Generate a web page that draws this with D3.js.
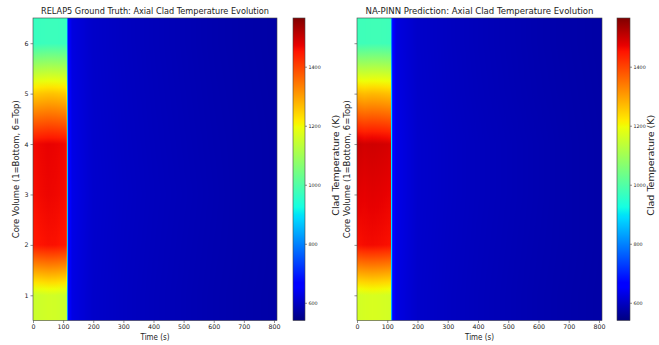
<!DOCTYPE html>
<html>
<head>
<meta charset="utf-8">
<script src="https://cdn.jsdelivr.net/npm/d3@7"></script>
<style>
  body { margin: 0; background: #fff; }
  svg text { font-family: "DejaVu Sans", sans-serif; fill: #222; }
</style>
</head>
<body>
<div id="chart"></div>
<script>
// time samples (s) and core volumes
const times = [0, 25, 50, 75, 100, 111, 114, 118, 130, 200, 300, 400, 500, 600, 700, 810];
const volumes = [1, 2, 3, 4, 5, 6];

// RELAP5 clad temperature (K), one array per volume
const relapV1 = [1150, 1155, 1160, 1158, 1152, 1150, 840, 665, 628, 606, 598, 592, 587, 582, 578, 574];
const relapV2 = [1445, 1452, 1456, 1455, 1450, 1446, 885, 670, 630, 607, 599, 593, 588, 583, 579, 575];
const relapV3 = [1458, 1464, 1468, 1466, 1462, 1458, 890, 672, 632, 608, 600, 594, 589, 584, 579, 575];
const relapV4 = [1462, 1468, 1472, 1470, 1466, 1462, 888, 670, 630, 607, 599, 593, 588, 583, 579, 575];
const relapV5 = [1250, 1258, 1262, 1260, 1255, 1250, 860, 666, 628, 606, 598, 592, 587, 582, 578, 574];
const relapV6 = [965, 970, 972, 972, 970, 968, 800, 660, 625, 605, 597, 591, 586, 581, 577, 573];

// NA-PINN prediction
const pinnV1 = [1160, 1165, 1168, 1166, 1162, 1160, 845, 666, 628, 606, 598, 592, 587, 582, 578, 574];
const pinnV2 = [1455, 1460, 1462, 1460, 1457, 1455, 888, 671, 631, 607, 599, 593, 588, 583, 579, 575];
const pinnV3 = [1478, 1474, 1478, 1476, 1472, 1470, 895, 673, 632, 608, 600, 594, 589, 584, 579, 575];
const pinnV4 = [1500, 1492, 1495, 1493, 1490, 1486, 900, 673, 632, 608, 600, 594, 589, 584, 579, 575];
const pinnV5 = [1275, 1268, 1272, 1270, 1266, 1264, 865, 667, 628, 606, 598, 592, 587, 582, 578, 574];
const pinnV6 = [975, 976, 978, 978, 976, 974, 805, 661, 625, 605, 597, 591, 586, 581, 577, 573];

const xTicks = [0, 100, 200, 300, 400, 500, 600, 700, 800];
const yTicks = [1, 2, 3, 4, 5, 6];
const cbTicks = [600, 800, 1000, 1200, 1400];
const tempDomain = [540, 1565];

// jet colormap stops
const jetT = [0, 0.11, 0.125, 0.34, 0.35, 0.375, 0.64, 0.65, 0.66, 0.89, 0.91, 1];
const jetC = ['#000080', '#0000ff', '#0000ff', '#00dbff', '#00e5f7', '#15ffe2',
              '#eeff08', '#f7f500', '#ffec00', '#ff1300', '#e80000', '#800000'];
const color = d3.scaleLinear()
    .domain(jetT.map(t => tempDomain[0] + t * (tempDomain[1] - tempDomain[0])))
    .range(jetC)
    .clamp(true);

const W = 659, H = 345;
const plotTop = 18, plotBottom = 320.5;

const panels = [
    { title: 'RELAP5 Ground Truth: Axial Clad Temperature Evolution', rows: [relapV1, relapV2, relapV3, relapV4, relapV5, relapV6],
      x0: 33, x1: 277, cb0: 293, cb1: 305, cbLabelX: 339, ylabelX: 19, yLabels: true, id: 'a' },
    { title: 'NA-PINN Prediction: Axial Clad Temperature Evolution', rows: [pinnV1, pinnV2, pinnV3, pinnV4, pinnV5, pinnV6],
      x0: 357, x1: 602, cb0: 617, cb1: 630, cbLabelX: 654, ylabelX: 350, yLabels: false, id: 'b' }
];

const svg = d3.select('#chart').append('svg')
    .attr('width', W)
    .attr('height', H);
const defs = svg.append('defs');

const y = d3.scaleLinear().domain([0.5, 6.5]).range([plotBottom, plotTop]);
const timeInterp = d3.scaleLinear().domain(times).range(d3.range(times.length)).clamp(true);

function valueAt(row, t) {
    const f = timeInterp(t);
    const i = Math.min(Math.floor(f), times.length - 2);
    const w = f - i;
    return row[i] * (1 - w) + row[i + 1] * w;
}

panels.forEach(p => {
    const x = d3.scaleLinear().domain([0, 810]).range([p.x0, p.x1]);
    const g = svg.append('g');

    // heatmap columns, one pixel wide, vertical gradient across volumes
    const cols = d3.range(p.x0, p.x1, 1);
    const vSteps = d3.range(6.5, 0.45, -0.125);
    cols.forEach((px, ci) => {
        const t = x.invert(px + 0.5);
        const vals = p.rows.map(r => valueAt(r, t));
        const vInterp = d3.scaleLinear().domain(volumes).range(vals).clamp(true);
        const gid = `g${p.id}${ci}`;
        const grad = defs.append('linearGradient')
            .attr('id', gid)
            .attr('x1', 0).attr('y1', 0).attr('x2', 0).attr('y2', 1);
        grad.selectAll('stop')
            .data(vSteps)
            .enter().append('stop')
            .attr('offset', v => (6.5 - v) / 6)
            .attr('stop-color', v => color(vInterp(v)));
        g.append('rect')
            .attr('x', px)
            .attr('y', plotTop)
            .attr('width', Math.min(1.2, p.x1 - px))
            .attr('height', plotBottom - plotTop)
            .attr('fill', `url(#${gid})`);
    });

    // frame
    g.append('rect')
        .attr('x', p.x0).attr('y', plotTop)
        .attr('width', p.x1 - p.x0).attr('height', plotBottom - plotTop)
        .attr('fill', 'none').attr('stroke', '#444').attr('stroke-width', 0.6);

    // axes
    const xa = g.append('g')
        .attr('transform', `translate(0,${plotBottom})`)
        .call(d3.axisBottom(x).tickValues(xTicks).tickSize(2.5).tickPadding(2));
    xa.select('.domain').remove();
    xa.selectAll('line').attr('stroke', '#444').attr('stroke-width', 0.6);
    xa.selectAll('text').style('font-size', '6.3px').attr('fill', '#333');

    const ya = g.append('g')
        .attr('transform', `translate(${p.x0},0)`)
        .call(d3.axisLeft(y).tickValues(yTicks).tickSize(2.5).tickPadding(2)
            .tickFormat(p.yLabels ? d3.format('d') : ''));
    ya.select('.domain').remove();
    ya.selectAll('line').attr('stroke', '#444').attr('stroke-width', 0.6);
    ya.selectAll('text').style('font-size', '6.3px').attr('fill', '#333');

    // titles and labels
    g.append('text')
        .attr('x', (p.x0 + p.x1) / 2).attr('y', 14)
        .attr('text-anchor', 'middle')
        .attr('textLength', 228).attr('lengthAdjust', 'spacingAndGlyphs')
        .style('font-size', '9.5px')
        .text(p.title);

    g.append('text')
        .attr('x', (p.x0 + p.x1) / 2).attr('y', 340)
        .attr('text-anchor', 'middle')
        .attr('textLength', 29).attr('lengthAdjust', 'spacingAndGlyphs')
        .style('font-size', '8.3px')
        .text('Time (s)');

    g.append('text')
        .attr('transform', `translate(${p.ylabelX},${(plotTop + plotBottom) / 2}) rotate(-90)`)
        .attr('text-anchor', 'middle')
        .attr('textLength', 138).attr('lengthAdjust', 'spacingAndGlyphs')
        .style('font-size', '8.3px')
        .text('Core Volume (1=Bottom, 6=Top)');

    // colorbar
    const cy = d3.scaleLinear().domain(tempDomain).range([plotBottom, plotTop]);
    const cbId = `cb${p.id}`;
    const cbGrad = defs.append('linearGradient')
        .attr('id', cbId)
        .attr('x1', 0).attr('y1', 1).attr('x2', 0).attr('y2', 0);
    cbGrad.selectAll('stop')
        .data(jetT)
        .enter().append('stop')
        .attr('offset', t => t)
        .attr('stop-color', (t, i) => jetC[i]);
    g.append('rect')
        .attr('x', p.cb0).attr('y', plotTop)
        .attr('width', p.cb1 - p.cb0).attr('height', plotBottom - plotTop)
        .attr('fill', `url(#${cbId})`)
        .attr('stroke', '#444').attr('stroke-width', 0.6);

    const ca = g.append('g')
        .attr('transform', `translate(${p.cb1},0)`)
        .call(d3.axisRight(cy).tickValues(cbTicks).tickSize(2).tickPadding(1.5).tickFormat(d3.format('d')));
    ca.select('.domain').remove();
    ca.selectAll('line').attr('stroke', '#444').attr('stroke-width', 0.6);
    ca.selectAll('text').style('font-size', '4.8px').attr('fill', '#333');

    g.append('text')
        .attr('transform', `translate(${p.cbLabelX},${(plotTop + plotBottom) / 2 - 4}) rotate(-90)`)
        .attr('text-anchor', 'middle')
        .attr('textLength', 101).attr('lengthAdjust', 'spacingAndGlyphs')
        .style('font-size', '8.3px')
        .text('Clad Temperature (K)');
});
</script>
</body>
</html>
